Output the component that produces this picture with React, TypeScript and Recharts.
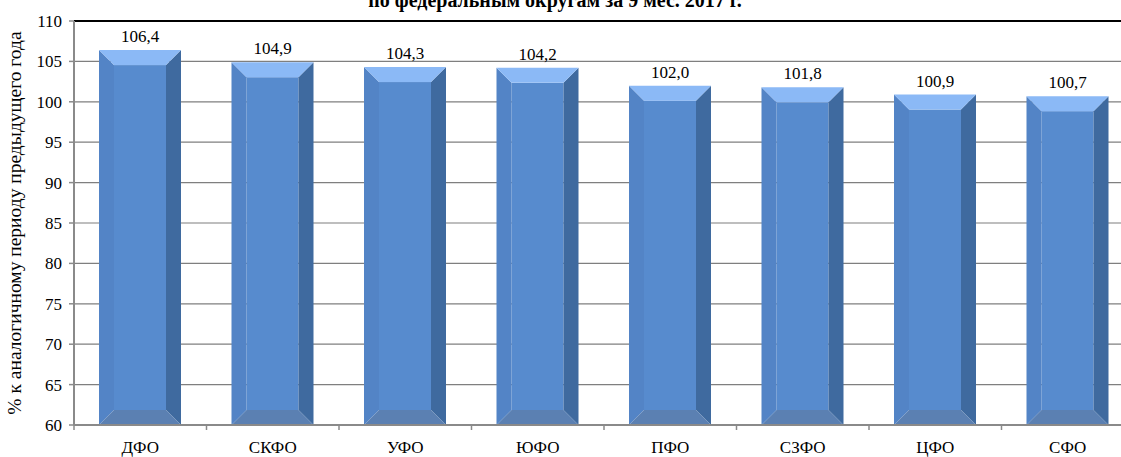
import React from "react"
import {
  Bar,
  BarChart,
  CartesianGrid,
  LabelList,
  ReferenceLine,
  XAxis,
  YAxis,
} from "recharts"

const districts = ["ДФО", "СКФО", "УФО", "ЮФО", "ПФО", "СЗФО", "ЦФО", "СФО"]
const values = [106.4, 104.9, 104.3, 104.2, 102.0, 101.8, 100.9, 100.7]
const yTicks = [60, 65, 70, 75, 80, 85, 90, 95, 100, 105, 110]

const data = districts.map((name, i) => ({ name, value: values[i] }))

const font = "Liberation Serif, DejaVu Serif, serif"
const band = 132.5

const colors = {
  top: "#8bb9f6",
  front: "#578bce",
  left: "#5384c6",
  right: "#3f6a9f",
  bottom: "#5b80b2",
}

// bar drawn as a bevelled block
function BevelBar(props: any) {
  const { x, y, width: w, height: h } = props
  if (!w || !h) return null
  const b = 15
  const bt = 15
  const bb = 15
  const pts = (arr: number[][]) => arr.map((p) => p.join(",")).join(" ")
  return (
    <g>
      <rect x={x + b} y={y + bt} width={w - 2 * b} height={h - bt - bb} fill={colors.front} />
      <polygon
        points={pts([[x, y], [x + b, y + bt], [x + b, y + h - bb], [x, y + h]])}
        fill={colors.left}
      />
      <polygon
        points={pts([[x + w, y], [x + w, y + h], [x + w - b, y + h - bb], [x + w - b, y + bt]])}
        fill={colors.right}
      />
      <polygon
        points={pts([[x, y + h], [x + b, y + h - bb], [x + w - b, y + h - bb], [x + w, y + h]])}
        fill={colors.bottom}
      />
      <polygon
        points={pts([[x, y], [x + w, y], [x + w - b, y + bt], [x + b, y + bt]])}
        fill={colors.top}
      />
    </g>
  )
}

function XTick(props: any) {
  const { x, y, payload, index } = props
  const half = band / 2
  return (
    <g>
      {index === 0 && <line x1={x - half} y1={y - 8} x2={x - half} y2={y - 3} stroke="#8a8a8a" strokeWidth={1.5} />}
      <line x1={x + half} y1={y - 8} x2={x + half} y2={y - 3} stroke="#8a8a8a" strokeWidth={1.5} />
      <text x={x} y={453} textAnchor="middle" fontSize={17} style={{ fontFamily: font }} fill="#000">
        {payload.value}
      </text>
    </g>
  )
}

function YTitle(props: any) {
  const { viewBox } = props
  const cy = viewBox.y + viewBox.height / 2
  return (
    <text
      x={21}
      y={cy}
      transform={`rotate(-90, 21, ${cy})`}
      textAnchor="middle"
      fontSize={19.5}
      style={{ fontFamily: font }}
      fill="#000"
    >
      % к аналогичному периоду предыдущего года
    </text>
  )
}

export default function App() {
  return (
    <div
      style={{
        position: "absolute",
        left: 0,
        top: 0,
        width: 1121,
        height: 457,
        overflow: "hidden",
        background: "#fff",
        fontFamily: font,
      }}
    >
      <BarChart
        width={74 + band * 8 + 8}
        height={457}
        data={data}
        margin={{ top: 21, right: 8, bottom: 0, left: 0 }}
        barSize={82}
        style={{ fontFamily: font }}
      >
        <CartesianGrid vertical={false} stroke="#7f7f7f" strokeWidth={1.2} />
        <XAxis
          dataKey="name"
          height={32}
          tickLine={false}
          axisLine={{ stroke: "#8a8a8a", strokeWidth: 2 }}
          tick={<XTick />}
          interval={0}
        />
        <YAxis
          width={74}
          domain={[60, 110]}
          ticks={yTicks}
          interval={0}
          tickSize={5}
          tickMargin={7}
          axisLine={{ stroke: "#8a8a8a", strokeWidth: 2 }}
          tickLine={{ stroke: "#8a8a8a", strokeWidth: 1.5 }}
          tick={{ fontSize: 17, fontFamily: font, fill: "#000" }}
          label={<YTitle />}
        />
        <ReferenceLine y={110} stroke="#000" strokeWidth={2} />
        <Bar dataKey="value" shape={<BevelBar />} isAnimationActive={false}>
          <LabelList
            dataKey="value"
            position="top"
            offset={8}
            fontSize={17}
            fontFamily={font}
            fill="#000"
            formatter={(v: any) => Number(v).toFixed(1).replace(".", ",")}
          />
        </Bar>
      </BarChart>
      <svg
        width={1121}
        height={30}
        style={{ position: "absolute", left: 0, top: 0, pointerEvents: "none" }}
      >
        <text
          x={555}
          y={7}
          textAnchor="middle"
          fontSize={20}
          fontWeight="bold"
          style={{ fontFamily: font }}
          fill="#000"
        >
          по федеральным округам за 9 мес. 2017 г.
        </text>
      </svg>
    </div>
  )
}
